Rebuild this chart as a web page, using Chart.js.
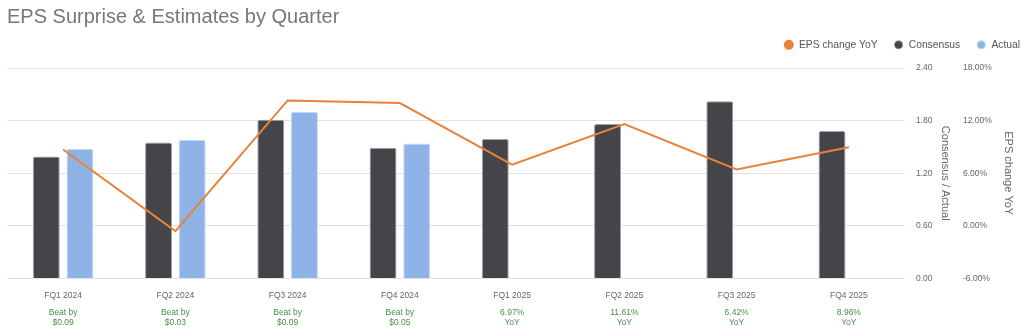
<!DOCTYPE html>
<html>
<head>
<meta charset="utf-8">
<script src="https://cdn.jsdelivr.net/npm/chart.js@4/dist/chart.umd.min.js"></script>
<style>
  html, body { margin: 0; padding: 0; background: #ffffff; }
  #wrap { width: 1024px; height: 336px; position: relative; }
</style>
</head>
<body>
<div id="wrap"><canvas id="eps"></canvas></div>
<script>
// Quarters shown along the bottom
const quarters = ['FQ1 2024', 'FQ2 2024', 'FQ3 2024', 'FQ4 2024', 'FQ1 2025', 'FQ2 2025', 'FQ3 2025', 'FQ4 2025'];

// Second label row under each quarter
const quarterNotes = [
  ['Beat by', '$0.09'], ['Beat by', '$0.03'], ['Beat by', '$0.09'], ['Beat by', '$0.05'],
  ['6.97%', 'YoY'], ['11.61%', 'YoY'], ['6.42%', 'YoY'], ['8.96%', 'YoY']
];

// EPS consensus and reported values ($)
const consensusEps = [1.39, 1.55, 1.81, 1.49, 1.59, 1.76, 2.02, 1.68];
const actualEps = [1.48, 1.58, 1.90, 1.54, null, null, null, null];

// Year-over-year EPS change (%)
const epsChangeYoY = [8.7, -0.6, 14.3, 14.0, 6.97, 11.61, 6.42, 8.96];

const FONT = '"Liberation Sans", Arial, sans-serif';

// Move the legend row right and up a little after layout
const legendNudge = {
  id: 'legendNudge',
  afterLayout(chart) {
    const lg = chart.legend;
    if (lg) {
      lg.left += 12; lg.right += 12;
      lg.top -= 8; lg.bottom -= 8;
    }
  }
};

new Chart(document.getElementById('eps'), {
  data: {
    labels: quarters,
    datasets: [
      {
        type: 'line',
        label: 'EPS change YoY',
        data: epsChangeYoY,
        yAxisID: 'yPct',
        borderColor: '#e8823a',
        backgroundColor: '#e8823a',
        borderWidth: 2,
        pointRadius: 0,
        pointHoverRadius: 0,
        tension: 0,
        order: 0
      },
      {
        type: 'bar',
        label: 'Consensus',
        data: consensusEps,
        yAxisID: 'yEps',
        backgroundColor: '#454449',
        borderColor: 'rgba(150,150,155,0.9)',
        borderWidth: 1,
        borderRadius: { topLeft: 2, topRight: 2 },
        borderSkipped: 'bottom',
        categoryPercentage: 0.6,
        barPercentage: 0.8,
        order: 1
      },
      {
        type: 'bar',
        label: 'Actual',
        data: actualEps,
        yAxisID: 'yEps',
        backgroundColor: '#8fb3e6',
        borderColor: 'rgba(190,210,240,0.9)',
        borderWidth: 1,
        borderRadius: { topLeft: 2, topRight: 2 },
        borderSkipped: 'bottom',
        categoryPercentage: 0.6,
        barPercentage: 0.8,
        order: 2
      }
    ]
  },
  plugins: [legendNudge],
  options: {
    responsive: true,
    maintainAspectRatio: false,
    animation: false,
    layout: { padding: { left: 7, right: 0, top: 5, bottom: 8 } },
    plugins: {
      title: {
        display: true,
        text: 'EPS Surprise & Estimates by Quarter',
        align: 'start',
        color: '#777777',
        font: { family: FONT, size: 20, weight: 'normal' },
        padding: { top: 0, bottom: 2.7 }
      },
      legend: {
        display: true,
        position: 'top',
        align: 'end',
        labels: {
          usePointStyle: true,
          pointStyle: 'circle',
          boxWidth: 10,
          boxHeight: 5.66,
          padding: 16,
          color: '#555555',
          font: { family: FONT, size: 10.3 }
        }
      },
      tooltip: { enabled: false }
    },
    scales: {
      x: {
        type: 'category',
        position: 'bottom',
        offset: true,
        grid: { display: false, drawTicks: false },
        border: { display: false },
        afterFit(scale) { scale.height = 22.8; },
        ticks: { color: '#666666', padding: 12.6, font: { family: FONT, size: 8.5 }, maxRotation: 0, autoSkip: false }
      },
      xNotes: {
        type: 'category',
        position: 'bottom',
        labels: quarterNotes,
        offset: true,
        grid: { display: false, drawTicks: false },
        border: { display: false },
        afterFit(scale) { scale.height = 26.8; },
        ticks: { color: '#4a8f4a', padding: 6.4, font: { family: FONT, size: 8.5, lineHeight: 1.2 }, maxRotation: 0, autoSkip: false }
      },
      yEps: {
        type: 'linear',
        position: 'right',
        min: 0,
        max: 2.4,
        grid: { color: '#e3e3e3', lineWidth: 1, drawTicks: false },
        border: { display: false },
        afterFit(scale) { scale.width = 47; },
        ticks: {
          stepSize: 0.6,
          padding: 11,
          color: '#666666',
          font: { family: FONT, size: 8.5 },
          callback: v => v.toFixed(2)
        },
        title: {
          display: true,
          text: 'Consensus / Actual',
          color: '#666666',
          font: { family: FONT, size: 11 },
          padding: { top: 0, bottom: 0 }
        }
      },
      yPct: {
        type: 'linear',
        position: 'right',
        min: -6,
        max: 18,
        grid: { display: false, drawTicks: false },
        border: { display: false },
        afterFit(scale) { scale.width = 72; },
        ticks: {
          stepSize: 6,
          padding: 11,
          color: '#666666',
          font: { family: FONT, size: 8.5 },
          callback: v => v.toFixed(2) + '%'
        },
        title: {
          display: true,
          text: 'EPS change YoY',
          color: '#666666',
          font: { family: FONT, size: 11 },
          padding: { top: 9, bottom: 0 }
        }
      }
    }
  }
});
</script>
</body>
</html>
